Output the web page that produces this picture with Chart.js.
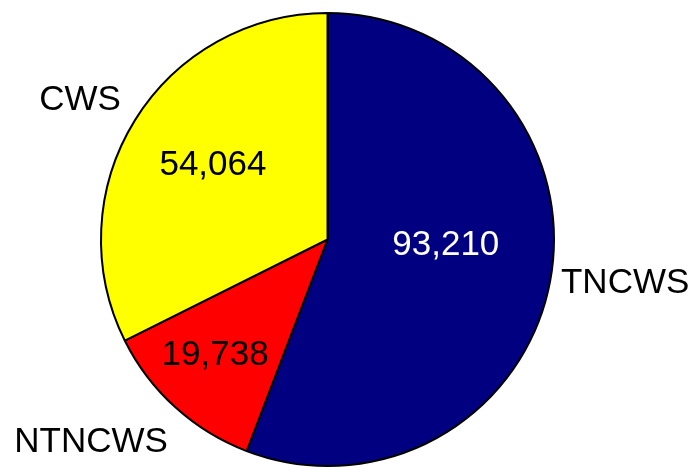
<!DOCTYPE html>
<html>
<head>
<meta charset="utf-8">
<script src="https://cdn.jsdelivr.net/npm/chart.js@4.4.1/dist/chart.umd.min.js"></script>
<style>
html,body{margin:0;padding:0;background:#fff;}
#wrap{width:699px;height:470px;position:relative;}
</style>
</head>
<body>
<div id="wrap"><canvas id="c" width="699" height="470"></canvas></div>
<script>
const categories = ["TNCWS", "NTNCWS", "CWS"];
const values = [93210, 19738, 54064];
const valueLabels = ["93,210", "19,738", "54,064"];
const sliceColors = ["#000080", "#FF0000", "#FFFF00"];
const valueTextColors = ["#FFFFFF", "#000000", "#000000"];
// label placement: polar offsets (degrees from +x, clockwise; radius as fraction of outer radius)
const valuePos = [[2.9, 0.523], [134.2, 0.712], [-147, 0.603]];
const namePos = [[8.3, 1.328], [139.4, 1.375], [-150.6, 1.254]];

const labelPlugin = {
  id: 'pieLabels',
  afterDatasetsDraw(chart) {
    const ctx = chart.ctx;
    const meta = chart.getDatasetMeta(0);
    const arc0 = meta.data[0];
    const cx = arc0.x, cy = arc0.y, R = arc0.outerRadius;
    ctx.save();
    ctx.font = '35px "Liberation Sans", Arial, sans-serif';
    ctx.textAlign = 'center';
    ctx.textBaseline = 'middle';
    for (let i = 0; i < categories.length; i++) {
      let [a, f] = valuePos[i];
      let rad = a * Math.PI / 180;
      ctx.fillStyle = valueTextColors[i];
      ctx.fillText(valueLabels[i], cx + Math.cos(rad) * R * f, cy + Math.sin(rad) * R * f);
      [a, f] = namePos[i];
      rad = a * Math.PI / 180;
      ctx.fillStyle = '#000000';
      ctx.fillText(categories[i], cx + Math.cos(rad) * R * f, cy + Math.sin(rad) * R * f);
    }
    ctx.restore();
  }
};

new Chart(document.getElementById('c'), {
  type: 'pie',
  data: {
    labels: categories,
    datasets: [{
      data: values,
      backgroundColor: sliceColors,
      borderColor: '#000000',
      borderWidth: 2
    }]
  },
  options: {
    responsive: false,
    animation: false,
    devicePixelRatio: 1,
    rotation: 0,
    layout: { padding: { left: 100, top: 12, right: 144, bottom: 3 } },
    plugins: { legend: { display: false }, tooltip: { enabled: false } }
  },
  plugins: [labelPlugin]
});
</script>
</body>
</html>
